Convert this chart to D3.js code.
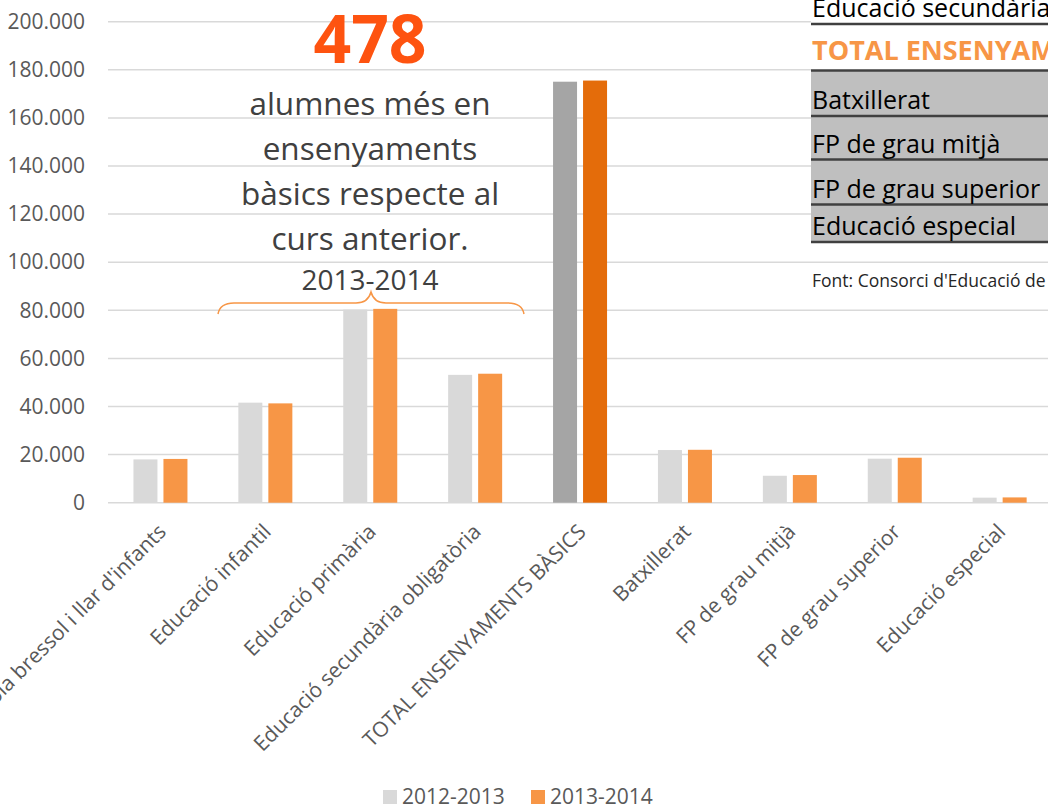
<!DOCTYPE html>
<html lang="ca">
<head>
  <meta charset="utf-8">
  <title>Alumnes per ensenyament</title>
  <script src="https://d3js.org/d3.v7.min.js"></script>
  <style>
    body { margin: 0; background: #fff; overflow: hidden; }
    svg { display: block; font-family: "Open Sans", sans-serif; }
  </style>
</head>
<body>
<script>
// data
var categories = ["Escola bressol i llar d'infants", "Educació infantil", "Educació primària",
  "Educació secundària obligatòria", "TOTAL ENSENYAMENTS BÀSICS", "Batxillerat",
  "FP de grau mitjà", "FP de grau superior", "Educació especial"];
var series = ["2012-2013", "2013-2014"];
var values2012 = [18000, 41600, 80300, 53150, 175050, 21900, 11200, 18300, 2100];
var values2013 = [18200, 41300, 80600, 53630, 175528, 22000, 11500, 18700, 2200];
var yTicks = [0, 20000, 40000, 60000, 80000, 100000, 120000, 140000, 160000, 180000, 200000];
var highlight = "TOTAL ENSENYAMENTS BÀSICS";

var headline = "478";
var noteLines = ["alumnes més en", "ensenyaments", "bàsics respecte al", "curs anterior."];
var noteYear = "2013-2014";

var tableRows = ["Educació secundària obligatòria", "TOTAL ENSENYAMENTS BÀSICS", "Batxillerat",
  "FP de grau mitjà", "FP de grau superior", "Educació especial"];
var sourceText = "Font: Consorci d'Educació de Barcelona";

var w = 1048, h = 806;
var left = 108, step = 104.9;

var colors = { "2012-2013": "#d9d9d9", "2013-2014": "#f79646" };
var hiColors = { "2012-2013": "#a5a5a5", "2013-2014": "#e46c0a" };

var rows = categories.map(function(c, i) {
  return { cat: c, vals: [
    { s: series[0], v: values2012[i] },
    { s: series[1], v: values2013[i] }
  ] };
});

var svg = d3.select("body").append("svg")
  .attr("width", w)
  .attr("height", h);

var x0 = d3.scaleBand()
  .domain(categories)
  .range([left, left + step * categories.length])
  .padding(0);

var x1 = d3.scaleBand()
  .domain(series)
  .range([x0.bandwidth() / 2 - 27, x0.bandwidth() / 2 + 27])
  .paddingInner(0.2);

var y = d3.scaleLinear()
  .domain([0, 200000])
  .range([502.7, 21.7]);

var fmt = d3.formatLocale({ decimal: ",", thousands: ".", grouping: [3], currency: ["", " €"] }).format(",");

// gridlines
svg.append("g").selectAll("line")
  .data(yTicks)
  .enter().append("line")
  .attr("x1", left)
  .attr("x2", w)
  .attr("y1", function(d) { return y(d); })
  .attr("y2", function(d) { return y(d); })
  .attr("stroke", "#d9d9d9")
  .attr("stroke-width", 1.5);

// y axis labels
var yAxis = svg.append("g")
  .attr("transform", "translate(" + (left - 8) + ",0)")
  .call(d3.axisLeft(y).tickValues(yTicks).tickFormat(fmt).tickSize(0).tickPadding(15));
yAxis.select(".domain").remove();
yAxis.selectAll("text")
  .attr("fill", "#595959")
  .style("font-family", "'Open Sans', sans-serif")
  .style("font-size", "21px");

// bars
var groups = svg.append("g").selectAll("g")
  .data(rows)
  .enter().append("g")
  .attr("transform", function(d) { return "translate(" + x0(d.cat) + ",0)"; });

groups.selectAll("rect")
  .data(function(d) { return d.vals.map(function(v) { return { cat: d.cat, s: v.s, v: v.v }; }); })
  .enter().append("rect")
  .attr("x", function(d) { return x1(d.s); })
  .attr("y", function(d) { return y(d.v); })
  .attr("width", x1.bandwidth())
  .attr("height", function(d) { return y(0) - y(d.v); })
  .attr("fill", function(d) { return d.cat === highlight ? hiColors[d.s] : colors[d.s]; });

// category labels, rotated like the spreadsheet axis
svg.append("g").selectAll("text")
  .data(categories)
  .enter().append("text")
  .attr("transform", function(d) {
    return "translate(" + (x0(d) + x0.bandwidth() / 2 + 7) + ",533) rotate(-45)";
  })
  .attr("text-anchor", "end")
  .attr("fill", "#595959")
  .style("font-size", "21px")
  .text(function(d) { return d; });

// legend
var legend = svg.append("g").selectAll("g")
  .data(series)
  .enter().append("g")
  .attr("transform", function(d, i) { return "translate(" + (383 + i * 148) + ",790)"; });
legend.append("rect")
  .attr("width", 14)
  .attr("height", 14)
  .attr("fill", function(d) { return colors[d]; });
legend.append("text")
  .attr("x", 19)
  .attr("y", 14)
  .attr("fill", "#595959")
  .style("font-size", "21px")
  .text(function(d) { return d; });

// annotation
var note = svg.append("g").attr("text-anchor", "middle");
note.append("text")
  .attr("x", 370)
  .attr("y", 63)
  .attr("fill", "#fe5310")
  .style("font-weight", "bold")
  .style("font-size", "66px")
  .text(headline);
note.selectAll("text.line")
  .data(noteLines)
  .enter().append("text")
  .attr("class", "line")
  .attr("x", 370)
  .attr("y", function(d, i) { return 115 + i * 45; })
  .attr("fill", "#404040")
  .style("font-size", "31.5px")
  .text(function(d) { return d; });
note.append("text")
  .attr("x", 370)
  .attr("y", 290)
  .attr("fill", "#404040")
  .style("font-size", "28px")
  .text(noteYear);

// brace
svg.append("path")
  .attr("d", "M218,314 Q220,303 234,303 L356,303 Q368,303 371,292 Q374,303 386,303 L508,303 Q522,303 524,314")
  .attr("fill", "none")
  .attr("stroke", "#f79646")
  .attr("stroke-width", 1.5);

// pasted table on the right
var tx = 811;
var lineY = [24, 70.5, 116, 159.5, 204.5, 242];
var table = svg.append("g");
table.append("rect")
  .attr("x", tx).attr("y", 0)
  .attr("width", w - tx).attr("height", lineY[1])
  .attr("fill", "#fff");
table.append("rect")
  .attr("x", tx).attr("y", lineY[1])
  .attr("width", w - tx).attr("height", lineY[5] - lineY[1])
  .attr("fill", "#bfbfbf");
table.selectAll("line")
  .data(lineY)
  .enter().append("line")
  .attr("x1", tx).attr("x2", w)
  .attr("y1", function(d) { return d; })
  .attr("y2", function(d) { return d; })
  .attr("stroke", "#404040")
  .attr("stroke-width", 2.5);
table.selectAll("text")
  .data(tableRows)
  .enter().append("text")
  .attr("x", tx + 1)
  .attr("y", function(d, i) { return lineY[i] - (i === 1 ? 10.5 : 7); })
  .attr("fill", function(d, i) { return i === 1 ? "#f79646" : "#000"; })
  .style("font-weight", function(d, i) { return i === 1 ? "bold" : "normal"; })
  .style("font-size", function(d, i) { return i === 1 ? "27px" : "25px"; })
  .text(function(d) { return d; });
table.append("text")
  .attr("x", tx + 1)
  .attr("y", 287)
  .attr("fill", "#262626")
  .style("font-size", "17.5px")
  .text(sourceText);
</script>
</body>
</html>
